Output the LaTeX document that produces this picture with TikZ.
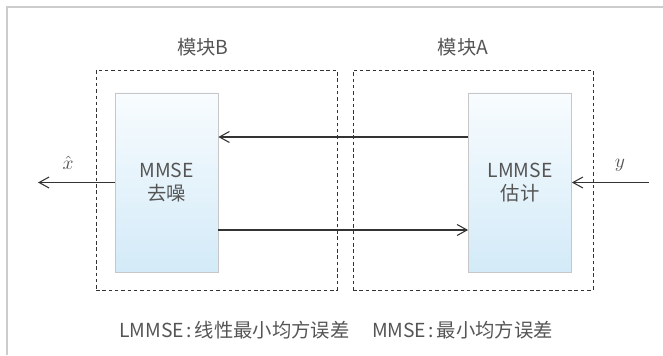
\documentclass[tikz,border=0pt]{standalone}
\usepackage{fontspec}
\setmainfont{Noto Sans CJK SC}
\usetikzlibrary{arrows.meta,positioning}

\definecolor{schrift}{HTML}{555555}
\definecolor{linie}{HTML}{333333}
\definecolor{rahmengrau}{HTML}{CCCCCC}
\definecolor{blockoben}{HTML}{F8FCFE}
\definecolor{blockunten}{HTML}{D3EAF8}

\tikzset{
  block/.style={draw=black!22, top color=blockoben, bottom color=blockunten,
    minimum width=2.06cm, minimum height=3.58cm, inner sep=0pt,
    align=center, text=schrift, font=\fontsize{11}{13.5}\selectfont},
  modul/.style={draw=linie, dash pattern=on 2pt off 1.6pt, line width=0.5pt,
    minimum height=4.40cm, inner sep=0pt},
  titel/.style={text=schrift, font=\fontsize{11}{13}\selectfont},
  signal/.style={text=schrift, font=\fontsize{11}{13}\selectfont},
  pfeil/.style={draw=linie, line width=0.6pt, -{Straight Barb[length=2mm,width=2.2mm]}}
}

\begin{document}
\begin{tikzpicture}
\useasboundingbox (0,0) rectangle (13.26,7.10);

% Rahmen
\draw[rahmengrau, line width=0.7pt] (0.14,0) -- (0.14,6.96) -- (13.26,6.96);

% Module
\node[modul, minimum width=4.82cm] (modulB) at (4.33,3.50) {};
\node[modul, minimum width=4.80cm] (modulA) at (9.46,3.50) {};
\node[titel] (titelB) at (4.06,6.16) {模块B};
\node[titel] (titelA) at (9.26,6.16) {模块A};

% Bloecke
\node[block] (mmse) at (3.33,3.45) {MMSE\\去噪};
\node[block] (lmmse) at (10.40,3.45) {LMMSE\\估计};

% Pfeile
\draw[pfeil] ([yshift=0.91cm]lmmse.west) -- ([yshift=0.91cm]mmse.east);
\draw[pfeil] ([yshift=-0.95cm]mmse.east) -- ([yshift=-0.95cm]lmmse.west);

\coordinate (aus) at (0.76,3.45);
\coordinate (ein) at (12.98,3.45);
\draw[pfeil] (mmse.west) -- (aus);
\draw[pfeil] (ein) -- (lmmse.east);
\node[signal] (xhat) at (1.36,3.84) {$\hat{x}$};
\node[signal] (yin) at (12.40,3.80) {$y$};

% Legende
\node[titel] (leg1) at (4.69,0.50) {LMMSE\hspace{1.5pt}:\hspace{1.5pt}线性最小均方误差};
\node[titel] (leg2) at (9.25,0.50) {MMSE\hspace{1.5pt}:\hspace{1.5pt}最小均方误差};

\end{tikzpicture}
\end{document}
